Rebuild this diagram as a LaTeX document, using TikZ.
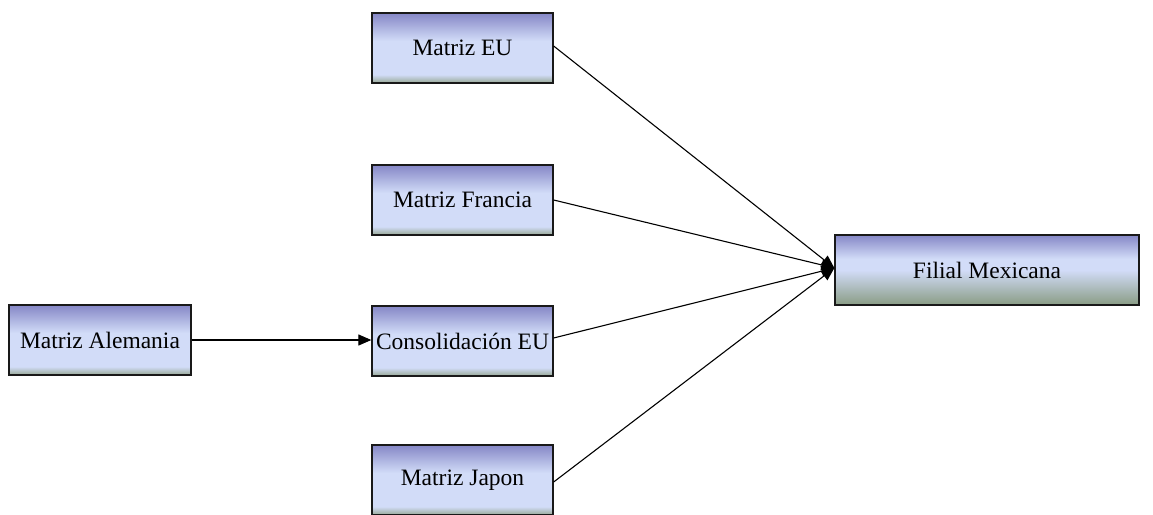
\documentclass[tikz,border=0pt]{standalone}
\usepackage{fontspec}
\setmainfont{Liberation Serif}
\usetikzlibrary{arrows.meta}

\definecolor{head}{HTML}{8587C6}
\definecolor{body}{HTML}{D2DCF8}
\definecolor{foot}{HTML}{97A894}
\definecolor{ffoot}{HTML}{899C84}
% vertical fills: blue-violet top, pale blue body, grey-green foot
\pgfdeclareverticalshading{matrizshade}{100bp}{%
  color(0bp)=(foot); color(25bp)=(foot); color(31bp)=(body);
  color(55bp)=(body); color(75bp)=(head); color(100bp)=(head)}
\pgfdeclareverticalshading{filialshade}{100bp}{%
  color(0bp)=(ffoot); color(25bp)=(ffoot); color(50bp)=(body);
  color(58bp)=(body); color(75bp)=(head); color(100bp)=(head)}

\begin{document}
\begin{tikzpicture}[x=1pt,y=-1pt,
  entity/.style={draw=black!90, line width=1.3pt, shading=matrizshade,
    minimum width=181pt, minimum height=70pt, inner sep=0pt,
    font=\fontsize{23.5}{27}\selectfont},
  target/.style={entity, shading=filialshade, minimum width=304pt},
  flow/.style={line width=1.1pt, -{Triangle[length=13pt,width=11pt]}}]
  \useasboundingbox (0,0) rectangle (1153,514);

  \node[entity] (eu)   at (462.5,48)  {Matriz EU};
  \node[entity] (fr)   at (462.5,200) {Matriz Francia};
  \node[entity] (cons) at (462.5,341) {Consolidación EU};
  \node[entity] (jp)   at (462.5,480) {Matriz Japon};
  \node[entity, minimum width=182pt] (de) at (100,340) {Matriz Alemania};
  \node[target] (mx)   at (987,270)   {Filial Mexicana};

  \coordinate (hub) at ([yshift=2pt]mx.west);
  \draw[flow] (de.east) -- (de.east -| cons.west);
  \draw[flow] ([yshift=2pt]eu.east) -- (hub);
  \draw[flow] (fr.east) -- (hub);
  \draw[flow] ([yshift=3pt]cons.east) -- (hub);
  \draw[flow] ([yshift=-2pt]jp.east) -- (hub);
\end{tikzpicture}
\end{document}
